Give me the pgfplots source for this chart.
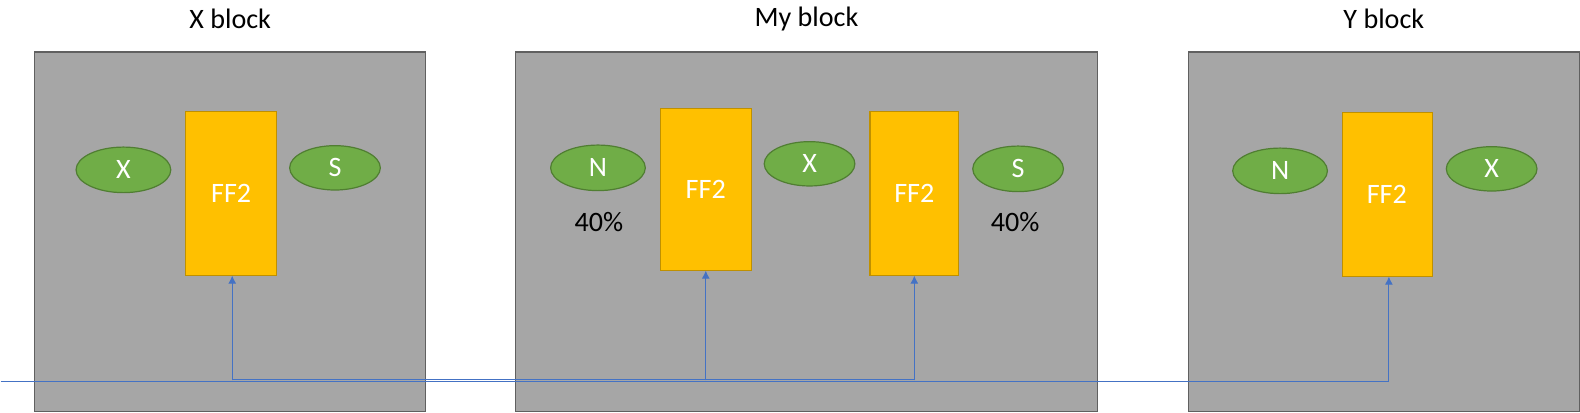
\documentclass[border=0pt]{standalone}
\usepackage{pgfplots}
\pgfplotsset{compat=1.18}
\usetikzlibrary{arrows.meta}
\usepackage{fontspec}
\setmainfont{Carlito}
\definecolor{boxgray}{HTML}{A6A6A6}
\definecolor{boxedge}{HTML}{606060}
\definecolor{ffor}{HTML}{FFC000}
\definecolor{ffedge}{HTML}{BF9000}
\definecolor{gr}{HTML}{70AD47}
\definecolor{gredge}{HTML}{507E32}
\definecolor{bl}{HTML}{4472C4}
\tikzset{ff/.style={ffedge, fill=ffor, line width=0.6pt},
  el/.style={gredge, fill=gr, line width=0.6pt},
  lab/.style={font=\fontsize{14}{16}\selectfont},
  wl/.style={white, font=\fontsize{14}{16}\selectfont},
  ar/.style={bl, line width=0.5pt, -{Latex[length=4bp,width=4bp]}}}
\begin{document}
\begin{tikzpicture}
\begin{axis}[scale only axis, width=790bp, height=215.5bp, xmin=0, xmax=1580, ymin=0, ymax=431,
  y dir=reverse, hide axis, clip=false]
\draw[boxedge, fill=boxgray, line width=0.7pt] (axis cs:34,69) rectangle (axis cs:422,426);
\draw[boxedge, fill=boxgray, line width=0.7pt] (axis cs:511,69) rectangle (axis cs:1089,426);
\draw[boxedge, fill=boxgray, line width=0.7pt] (axis cs:1179,69) rectangle (axis cs:1567,426);
\node[lab] at (axis cs:228,36) {X block};
\node[lab] at (axis cs:800,36) {My block};
\node[lab] at (axis cs:1373,36) {Y block};
\draw[ff] (axis cs:184,128) rectangle (axis cs:274,291);
\node[wl] at (axis cs:229,209) {FF2};
\draw[ff] (axis cs:655,125) rectangle (axis cs:745,286);
\node[wl] at (axis cs:700,205) {FF2};
\draw[ff] (axis cs:863,128) rectangle (axis cs:951,291);
\node[wl] at (axis cs:907,209) {FF2};
\draw[ff] (axis cs:1332,129) rectangle (axis cs:1421,292);
\node[wl] at (axis cs:1376,210) {FF2};
\draw[el] (axis cs:122,186) ellipse [x radius=23.5bp, y radius=11.3bp];
\node[wl] at (axis cs:122,186) {X};
\draw[el] (axis cs:332,184) ellipse [x radius=22.5bp, y radius=11bp];
\node[wl] at (axis cs:332,184) {S};
\draw[el] (axis cs:593,184) ellipse [x radius=23.5bp, y radius=11.3bp];
\node[wl] at (axis cs:593,184) {N};
\draw[el] (axis cs:803,180) ellipse [x radius=22.5bp, y radius=11bp];
\node[wl] at (axis cs:803,180) {X};
\draw[el] (axis cs:1010,185) ellipse [x radius=22.5bp, y radius=11.3bp];
\node[wl] at (axis cs:1010,185) {S};
\draw[el] (axis cs:1270,187) ellipse [x radius=23.5bp, y radius=11.3bp];
\node[wl] at (axis cs:1270,187) {N};
\draw[el] (axis cs:1480,185) ellipse [x radius=22.5bp, y radius=11bp];
\node[wl] at (axis cs:1480,185) {X};
\node[lab] at (axis cs:594,238) {40\%};
\node[lab] at (axis cs:1007,238) {40\%};
\draw[bl, line width=0.5pt] (axis cs:0,396) -- (axis cs:1378,396);
\draw[bl, line width=0.5pt] (axis cs:230,394) -- (axis cs:907,394);
\draw[ar] (axis cs:230,395) -- (axis cs:230,291);
\draw[ar] (axis cs:700,395) -- (axis cs:700,286);
\draw[ar] (axis cs:907,395) -- (axis cs:907,291);
\draw[ar] (axis cs:1378,396) -- (axis cs:1378,292);
\end{axis}
\end{tikzpicture}
\end{document}
